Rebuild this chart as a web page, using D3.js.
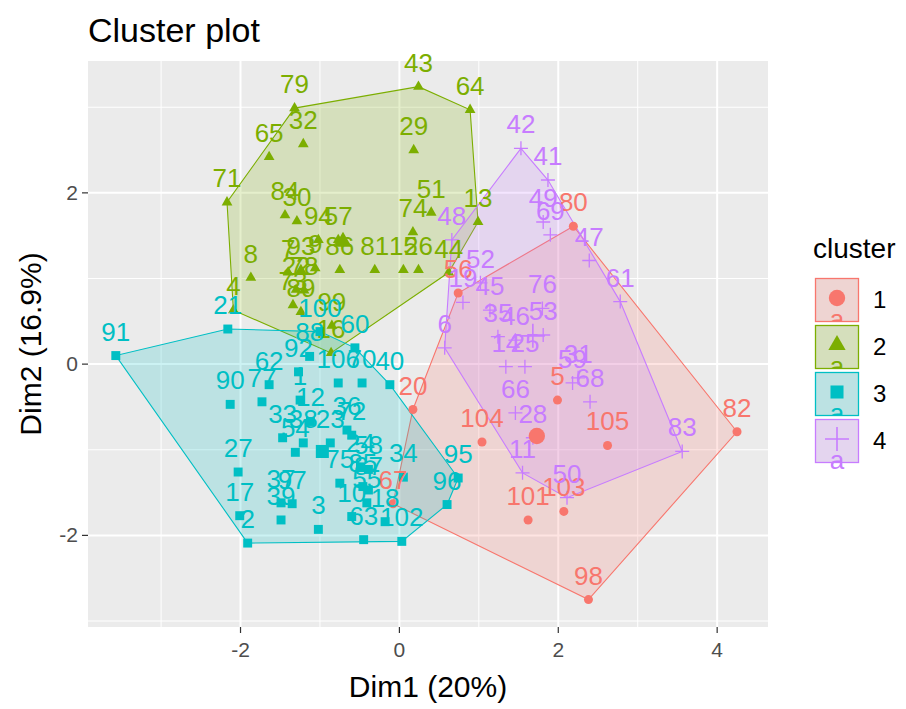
<!DOCTYPE html>
<html>
<head>
<meta charset="utf-8">
<script src="https://cdn.jsdelivr.net/npm/d3@7"></script>
<style>
body { margin: 0; background: #fff; }
text { font-family: "Liberation Sans", Arial, sans-serif; }
</style>
</head>
<body>
<svg id="chart" width="906" height="709"></svg>
<script>
// cluster names and colours (ggplot default hues)
const clusterNames = ['1', '2', '3', '4'];
const clusterColors = ['#F8766D', '#7CAE00', '#00BFC4', '#C77CFF'];

// cluster 1
const c1Ids = [20, 56, 80, 82, 98, 67, 104, 101, 103, 105, 5];
const c1X = [0.17, 0.74, 2.19, 4.25, 2.38, -0.08, 1.04, 1.62, 2.07, 2.62, 1.99];
const c1Y = [-0.53, 0.83, 1.61, -0.79, -2.75, -1.63, -0.91, -1.82, -1.72, -0.95, -0.42];

// cluster 2
const c2Ids = [79, 32, 65, 71, 84, 30, 94, 57, 43, 64, 29, 51, 74, 13, 8, 4, 7, 93, 9, 86, 81, 15, 26, 44, 22, 78, 73, 89, 99, 16];
const c2X = [-1.32, -1.21, -1.64, -2.17, -1.44, -1.29, -1.02, -0.77, 0.24, 0.89, 0.18, 0.40, 0.17, 0.99, -1.87, -2.09, -1.40, -1.24, -1.06, -0.75, -0.31, 0.05, 0.24, 0.62, -1.30, -1.20, -1.34, -1.24, -0.85, -0.86];
const c2Y = [2.99, 2.57, 2.42, 1.89, 1.74, 1.67, 1.45, 1.45, 3.24, 2.97, 2.50, 1.77, 1.54, 1.66, 1.01, 0.63, 1.07, 1.10, 1.12, 1.10, 1.10, 1.10, 1.10, 1.07, 0.87, 0.86, 0.69, 0.61, 0.45, 0.13];

// cluster 3
const c3Ids = [91, 21, 100, 88, 92, 62, 90, 77, 1, 12, 33, 38, 54, 23, 36, 72, 24, 58, 75, 85, 87, 37, 97, 39, 27, 17, 2, 3, 10, 18, 63, 102, 34, 95, 96, 40, 70, 106, 60, 55];
const c3X = [-3.57, -2.16, -1.00, -1.13, -1.27, -1.64, -2.13, -1.73, -1.25, -1.12, -1.47, -1.21, -1.31, -0.87, -0.66, -0.60, -0.49, -0.39, -0.75, -0.46, -0.39, -1.49, -1.35, -1.49, -2.03, -2.01, -1.91, -1.02, -0.60, -0.18, -0.45, 0.03, 0.05, 0.74, 0.60, -0.12, -0.47, -0.77, -0.56, -0.41];
const c3Y = [0.10, 0.41, 0.38, 0.09, -0.09, -0.24, -0.47, -0.44, -0.42, -0.67, -0.86, -0.92, -1.03, -0.92, -0.77, -0.83, -1.20, -1.23, -1.39, -1.43, -1.47, -1.62, -1.63, -1.82, -1.26, -1.77, -2.09, -1.93, -1.78, -1.84, -2.05, -2.07, -1.32, -1.33, -1.64, -0.24, -0.22, -0.22, 0.19, -1.62];

// cluster 4
const c4Ids = [42, 41, 49, 69, 47, 61, 48, 19, 52, 45, 76, 6, 35, 46, 14, 25, 53, 66, 31, 59, 68, 28, 11, 50, 83];
const c4X = [1.53, 1.87, 1.81, 1.90, 2.39, 2.78, 0.66, 0.80, 1.02, 1.14, 1.80, 0.57, 1.24, 1.46, 1.34, 1.58, 1.81, 1.46, 2.25, 2.18, 2.40, 1.68, 1.55, 2.11, 3.56];
const c4Y = [2.52, 2.15, 1.66, 1.51, 1.21, 0.73, 1.45, 0.72, 0.95, 0.63, 0.65, 0.19, 0.32, 0.28, -0.03, -0.03, 0.34, -0.57, -0.16, -0.22, -0.44, -0.86, -1.27, -1.56, -1.02];

// cluster centres
const centerX = [1.73, -0.71, -0.97, 1.68];
const centerY = [-0.84, 1.43, -1.02, 0.33];

// axes
const xTicks = [-2, 0, 2, 4];
const yTicks = [-2, 0, 2];
const xMinor = [-3, -1, 1, 3];
const yMinor = [-3, -1, 1, 3];

const clusters = [
  { ids: c1Ids, xs: c1X, ys: c1Y },
  { ids: c2Ids, xs: c2X, ys: c2Y },
  { ids: c3Ids, xs: c3X, ys: c3Y },
  { ids: c4Ids, xs: c4X, ys: c4Y }
];

const svg = d3.select('#chart');
const panel = { left: 88, right: 768, top: 61, bottom: 627 };

const x = d3.scaleLinear().domain([-3.92, 4.64]).range([panel.left, panel.right]);
const y = d3.scaleLinear().domain([-3.07, 3.54]).range([panel.bottom, panel.top]);

// panel background + grid
svg.append('rect')
  .attr('x', panel.left).attr('y', panel.top)
  .attr('width', panel.right - panel.left).attr('height', panel.bottom - panel.top)
  .attr('fill', '#EBEBEB');

const grid = svg.append('g');
xMinor.forEach(v => grid.append('line')
  .attr('x1', x(v)).attr('x2', x(v)).attr('y1', panel.top).attr('y2', panel.bottom)
  .attr('stroke', '#fff').attr('stroke-width', 1));
yMinor.forEach(v => grid.append('line')
  .attr('y1', y(v)).attr('y2', y(v)).attr('x1', panel.left).attr('x2', panel.right)
  .attr('stroke', '#fff').attr('stroke-width', 1));
xTicks.forEach(v => grid.append('line')
  .attr('x1', x(v)).attr('x2', x(v)).attr('y1', panel.top).attr('y2', panel.bottom)
  .attr('stroke', '#fff').attr('stroke-width', 2));
yTicks.forEach(v => grid.append('line')
  .attr('y1', y(v)).attr('y2', y(v)).attr('x1', panel.left).attr('x2', panel.right)
  .attr('stroke', '#fff').attr('stroke-width', 2));

// convex hulls
const plot = svg.append('g');
clusters.forEach((c, i) => {
  const pts = c.xs.map((d, j) => [x(d), y(c.ys[j])]);
  const hull = d3.polygonHull(pts);
  plot.append('path')
    .attr('d', 'M' + hull.join('L') + 'Z')
    .attr('fill', clusterColors[i]).attr('fill-opacity', 0.2)
    .attr('stroke', clusterColors[i]).attr('stroke-width', 1.1);
});

// marker drawing
function drawMarker(g, type, px, py, big, color) {
  if (type === 3) {
    const h = big ? 12 : 7;
    g.append('path')
      .attr('d', `M${px - h},${py}H${px + h}M${px},${py - h}V${py + h}`)
      .attr('stroke', color).attr('stroke-width', big ? 1.6 : 1.3).attr('fill', 'none');
    return;
  }
  const types = [d3.symbolCircle, d3.symbolTriangle, d3.symbolSquare];
  const sizes = big ? [210, 130, 170] : [64, 50, 80];
  g.append('path')
    .attr('d', d3.symbol().type(types[type]).size(sizes[type])())
    .attr('transform', `translate(${px},${py})`)
    .attr('fill', color);
}

clusters.forEach((c, i) => {
  c.xs.forEach((d, j) => drawMarker(plot, i, x(d), y(c.ys[j]), false, clusterColors[i]));
});

clusters.forEach((c, i) => {
  plot.append('g').selectAll('text').data(c.ids).join('text')
    .attr('x', (d, j) => x(c.xs[j]))
    .attr('y', (d, j) => y(c.ys[j]) - 15)
    .attr('text-anchor', 'middle')
    .attr('font-size', 26)
    .attr('fill', clusterColors[i])
    .text(d => d);
});

centerX.forEach((d, i) => drawMarker(plot, i, x(d), y(centerY[i]), true, clusterColors[i]));

// axes
const axes = svg.append('g');
xTicks.forEach(v => {
  axes.append('line').attr('x1', x(v)).attr('x2', x(v)).attr('y1', panel.bottom).attr('y2', panel.bottom + 6)
    .attr('stroke', '#333').attr('stroke-width', 1.2);
  axes.append('text').attr('x', x(v)).attr('y', panel.bottom + 30)
    .attr('text-anchor', 'middle').attr('font-size', 21).attr('fill', '#4D4D4D').text(v);
});
yTicks.forEach(v => {
  axes.append('line').attr('x1', panel.left - 6).attr('x2', panel.left).attr('y1', y(v)).attr('y2', y(v))
    .attr('stroke', '#333').attr('stroke-width', 1.2);
  axes.append('text').attr('x', panel.left - 10).attr('y', y(v) + 7)
    .attr('text-anchor', 'end').attr('font-size', 21).attr('fill', '#4D4D4D').text(v);
});

svg.append('text').attr('x', (panel.left + panel.right) / 2).attr('y', 697)
  .attr('text-anchor', 'middle').attr('font-size', 30).attr('fill', '#000').text('Dim1 (20%)');
svg.append('text').attr('transform', `translate(41,${(panel.top + panel.bottom) / 2}) rotate(-90)`)
  .attr('text-anchor', 'middle').attr('font-size', 30).attr('fill', '#000').text('Dim2 (16.9%)');
svg.append('text').attr('x', 88).attr('y', 42)
  .attr('font-size', 34).attr('fill', '#000').text('Cluster plot');

// legend
const legend = svg.append('g');
const defs = svg.append('defs');
legend.append('text').attr('x', 813).attr('y', 258).attr('font-size', 28).attr('fill', '#000').text('cluster');
clusterNames.forEach((name, i) => {
  const ky = 278 + i * 47;
  defs.append('clipPath').attr('id', 'key' + i)
    .append('rect').attr('x', 815).attr('y', ky).attr('width', 44).attr('height', i < 3 ? 44 : 60);
  const k = legend.append('g');
  k.append('rect').attr('x', 815).attr('y', ky).attr('width', 44).attr('height', 44).attr('fill', '#EBEBEB');
  k.append('rect').attr('x', 815.5).attr('y', ky + 0.5).attr('width', 43).attr('height', 43)
    .attr('fill', clusterColors[i]).attr('fill-opacity', 0.2)
    .attr('stroke', clusterColors[i]).attr('stroke-width', 1.3);
  drawMarker(k, i, 837, ky + 20, true, clusterColors[i]);
  k.append('text').attr('x', 837).attr('y', ky + 50).attr('text-anchor', 'middle')
    .attr('clip-path', `url(#key${i})`)
    .attr('font-size', 26).attr('fill', clusterColors[i]).text('a');
  legend.append('text').attr('x', 873).attr('y', ky + 30).attr('font-size', 24).attr('fill', '#000').text(name);
});
</script>
</body>
</html>
